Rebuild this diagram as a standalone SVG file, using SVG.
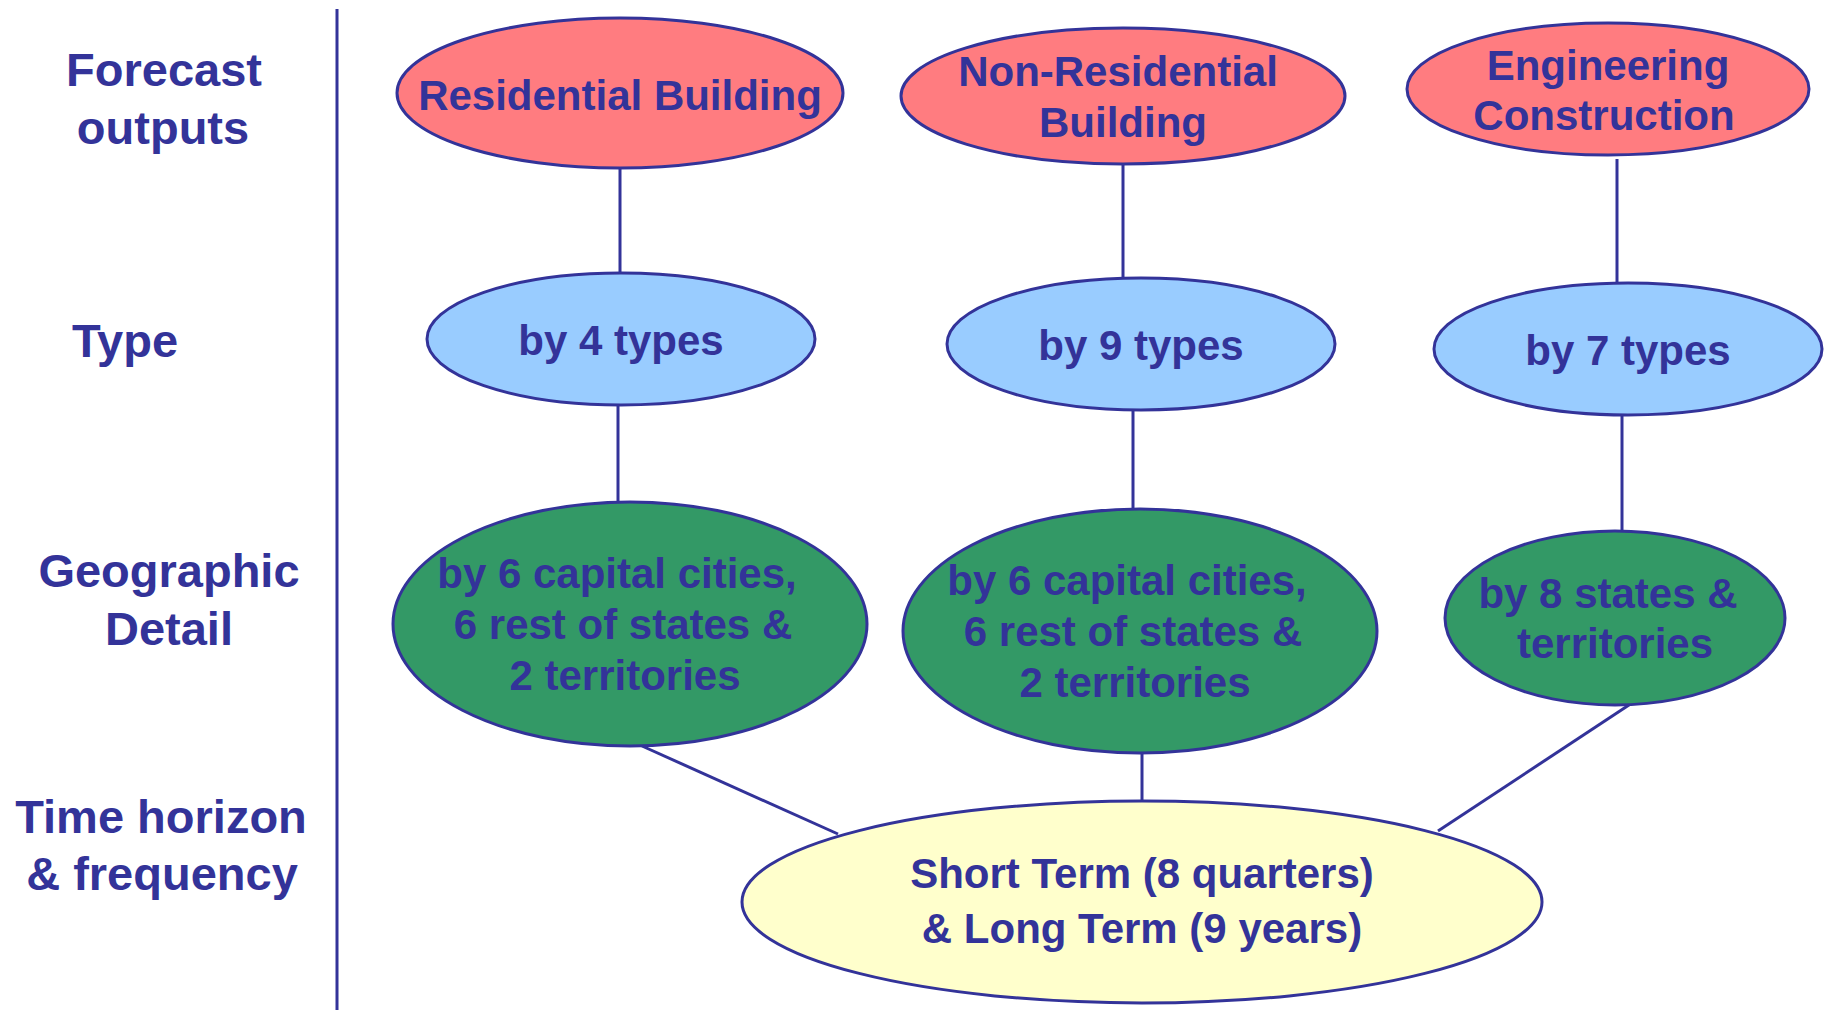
<svg xmlns="http://www.w3.org/2000/svg" width="1825" height="1010" viewBox="0 0 1825 1010">
<style>
.t{font-family:"Liberation Sans",Arial,sans-serif;font-weight:bold;fill:#333399;text-anchor:middle}
.lbl{font-size:47px}
.n{font-size:42px}
.sh{stroke:#333399;stroke-width:3}
.red{fill:#FF7C80}
.blue{fill:#99CCFF}
.green{fill:#339966}
.yellow{fill:#FFFFCC}
.c{stroke:#333399;stroke-width:3;fill:none}
</style>
<rect width="1825" height="1010" fill="#ffffff"/>
<g id="divider"><line class="c" x1="337" y1="9" x2="337" y2="1010"/></g>
<g id="row-labels">
<text class="t lbl" x="164" y="86">Forecast</text>
<text class="t lbl" x="163" y="144">outputs</text>
<text class="t lbl" x="125" y="357">Type</text>
<text class="t lbl" x="169" y="587">Geographic</text>
<text class="t lbl" x="169" y="645">Detail</text>
<text class="t lbl" x="161" y="833">Time horizon</text>
<text class="t lbl" x="162" y="890">&amp; frequency</text>
</g>
<g id="connectors">
<line class="c" x1="620" y1="168" x2="620" y2="273"/>
<line class="c" x1="618" y1="405" x2="618" y2="502"/>
<line class="c" x1="1123" y1="163" x2="1123" y2="278"/>
<line class="c" x1="1133" y1="410" x2="1133" y2="509"/>
<line class="c" x1="1617" y1="159" x2="1617" y2="283"/>
<line class="c" x1="1622" y1="414" x2="1622" y2="531"/>
<line class="c" x1="642" y1="746" x2="838" y2="834"/>
<line class="c" x1="1142" y1="751" x2="1142" y2="801"/>
<line class="c" x1="1632" y1="703" x2="1438" y2="831"/>
</g>
<g id="residential">
<ellipse class="red sh" cx="620" cy="93" rx="223" ry="75"/>
<text class="t n" x="620" y="110">Residential Building</text>
</g>
<g id="non-residential">
<ellipse class="red sh" cx="1123" cy="96" rx="222" ry="68"/>
<text class="t n" x="1118" y="86">Non-Residential</text>
<text class="t n" x="1123" y="137">Building</text>
</g>
<g id="engineering">
<ellipse class="red sh" cx="1608" cy="89" rx="201" ry="66"/>
<text class="t n" x="1608" y="80">Engineering</text>
<text class="t n" x="1604" y="130">Construction</text>
</g>
<g id="type-4">
<ellipse class="blue sh" cx="621" cy="339" rx="194" ry="66"/>
<text class="t n" x="621" y="355">by 4 types</text>
</g>
<g id="type-9">
<ellipse class="blue sh" cx="1141" cy="344" rx="194" ry="66"/>
<text class="t n" x="1141" y="360">by 9 types</text>
</g>
<g id="type-7">
<ellipse class="blue sh" cx="1628" cy="349" rx="194" ry="66"/>
<text class="t n" x="1628" y="365">by 7 types</text>
</g>
<g id="geo-res">
<ellipse class="green sh" cx="630" cy="624" rx="237" ry="122"/>
<text class="t n" x="617" y="588">by 6 capital cities,</text>
<text class="t n" x="623" y="639">6 rest of states &amp;</text>
<text class="t n" x="625" y="690">2 territories</text>
</g>
<g id="geo-nonres">
<ellipse class="green sh" cx="1140" cy="631" rx="237" ry="122"/>
<text class="t n" x="1127" y="595">by 6 capital cities,</text>
<text class="t n" x="1133" y="646">6 rest of states &amp;</text>
<text class="t n" x="1135" y="697">2 territories</text>
</g>
<g id="geo-eng">
<ellipse class="green sh" cx="1615" cy="618" rx="170" ry="87"/>
<text class="t n" x="1608" y="608">by 8 states &amp;</text>
<text class="t n" x="1615" y="658">territories</text>
</g>
<g id="time-horizon">
<ellipse class="yellow sh" cx="1142" cy="902" rx="400" ry="101"/>
<text class="t n" x="1142" y="888">Short Term (8 quarters)</text>
<text class="t n" x="1142" y="943">&amp; Long Term (9 years)</text>
</g>
</svg>
